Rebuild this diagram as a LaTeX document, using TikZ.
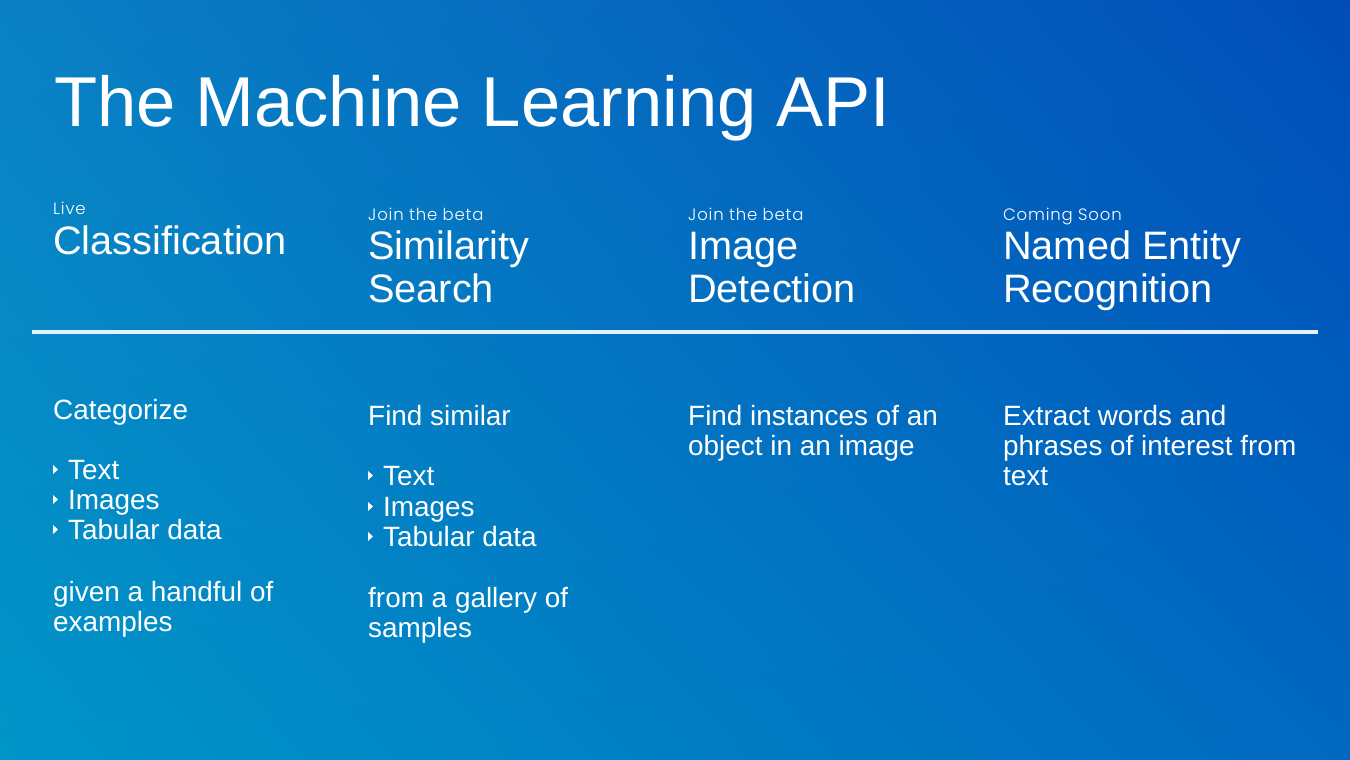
\documentclass[tikz,border=0pt]{standalone}
\usepackage{fontspec}
\usetikzlibrary{shadings}
\setmainfont{Liberation Sans}
\newfontfamily\geo[UprightFont={* Light},LetterSpace=5]{Poppins}
\definecolor{bgTL}{HTML}{0A80C4}
\definecolor{bgTR}{HTML}{004DB8}
\definecolor{bgBL}{HTML}{0096C8}
\definecolor{bgBR}{HTML}{0068C0}
\definecolor{rulecol}{HTML}{E4F0FA}
\begin{document}
\begin{tikzpicture}[x=1pt,y=-1pt,
  txt/.style={anchor=base west,inner sep=0pt,text=white},
  title/.style={txt,font=\fontsize{70.6}{80}\selectfont},
  head/.style={txt,font=\fontsize{39.7}{44}\selectfont},
  tag/.style={txt,font=\geo\fontsize{16.5}{18}\selectfont},
  body/.style={txt,font=\fontsize{27.9}{30}\selectfont},
  bul/.style={fill=white,draw=none}]
\useasboundingbox (0,0) rectangle (1350,760);
\shade[upper left=bgTL,upper right=bgTR,lower left=bgBL,lower right=bgBR] (0,0) rectangle (1350,760);
\node[title] (t) at (54,126) {The Machine Learning API};
% column 1
\node[tag] (l1) at (53,214) {Live};
\node[head] (h1) at (53,254) {Classification};
% column 2
\node[tag] (l2) at (368,220) {Join the beta};
\node[head] (h2a) at (368,259) {Similarity};
\node[head] (h2b) at (368,302) {Search};
% column 3
\node[tag] (l3) at (688,220) {Join the beta};
\node[head] (h3a) at (688,259) {Image};
\node[head] (h3b) at (688,302) {Detection};
% column 4
\node[tag] (l4) at (1003,220) {Coming Soon};
\node[head] (h4a) at (1003,259) {Named Entity};
\node[head] (h4b) at (1003,302) {Recognition};
% rule
\coordinate (rl) at (32,332);
\coordinate (rr) at (1318,332);
\draw[rulecol,line width=4pt] (rl) -- (rr);
% body column 1
\node[body] (b1a) at (53,419) {Categorize};
\node[body] (b1b) at (68,479) {Text};
\node[body] (b1c) at (68,509) {Images};
\node[body] (b1d) at (68,539) {Tabular data};
\node[body] (b1e) at (53,601) {given a handful of};
\node[body] (b1f) at (53,631) {examples};
\foreach \yy in {479,509,539} \fill[bul] (53,\yy-14) -- (53,\yy-5) -- (58,\yy-9.5) -- cycle;
% body column 2
\node[body] (b2a) at (368,425) {Find similar};
\node[body] (b2b) at (383,485) {Text};
\node[body] (b2c) at (383,516) {Images};
\node[body] (b2d) at (383,546) {Tabular data};
\node[body] (b2e) at (368,607) {from a gallery of};
\node[body] (b2f) at (368,637) {samples};
\foreach \yy in {485,516,546} \fill[bul] (368,\yy-14) -- (368,\yy-5) -- (373,\yy-9.5) -- cycle;
% body column 3
\node[body] (b3a) at (688,425) {Find instances of an};
\node[body] (b3b) at (688,455) {object in an image};
% body column 4
\node[body] (b4a) at (1003,425) {Extract words and};
\node[body] (b4b) at (1003,455) {phrases of interest from};
\node[body] (b4c) at (1003,485) {text};
\end{tikzpicture}
\end{document}
